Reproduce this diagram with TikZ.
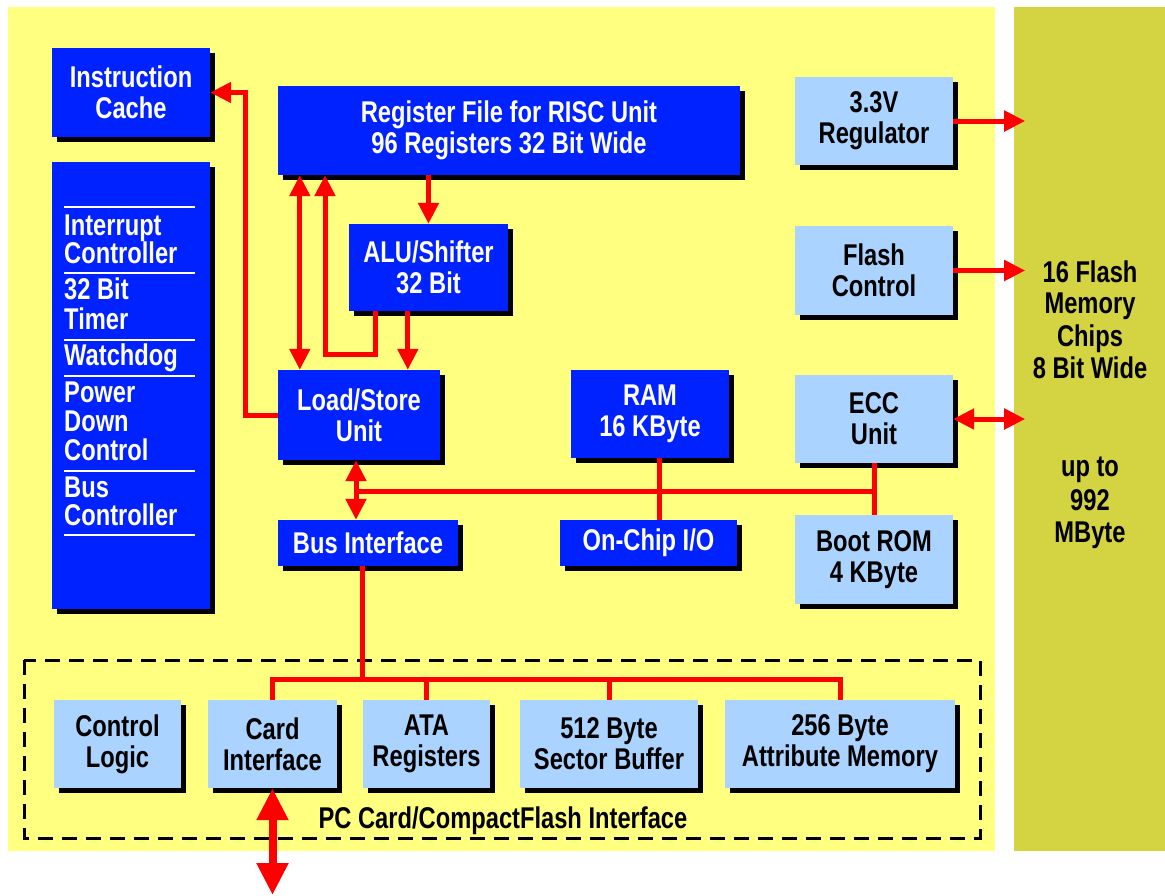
\documentclass[tikz,border=0pt]{standalone}
\usepackage{fontspec}
\newfontfamily\chipfont[FakeStretch=0.79]{Liberation Sans}
\usetikzlibrary{arrows.meta,shadows}
\definecolor{ChipBlue}{HTML}{0022FF}
\definecolor{ChipSky}{HTML}{AAD4FF}
\definecolor{ChipYellow}{HTML}{FFFF80}
\definecolor{ChipOlive}{HTML}{D4D442}
\definecolor{ChipRed}{HTML}{FF0000}

\begin{document}
\begin{tikzpicture}[x=1pt,y=-1pt,
  font=\chipfont\bfseries\fontsize{30}{31}\selectfont,
  >={Triangle[length=21pt,width=20pt]},
  box/.style={rectangle,inner sep=0pt,align=center,
    drop shadow={shadow xshift=5pt,shadow yshift=-5pt,fill=black,opacity=1}},
  cpu/.style={box,fill=ChipBlue,text=white},
  periph/.style={box,fill=ChipSky,text=black},
  wire/.style={ChipRed,line width=5pt},
  bigwire/.style={ChipRed,line width=8pt,<->,>={Triangle[length=32pt,width=30pt]}}]
  \useasboundingbox (0,0) rectangle (1165,895);
  \fill[ChipYellow] (8,7) rectangle (995,851);
  \fill[ChipOlive] (1014,7) rectangle (1165,851);

  % processor core
  \node[cpu,minimum width=158,minimum height=89] (icache) at (131,92.5) {Instruction\\Cache};
  \node[cpu,minimum width=158,minimum height=447] (sysblk) at (131,385.5) {};
  \node[cpu,minimum width=462,minimum height=89] (regfile) at (509,130.5)
    {Register File for RISC Unit\\96 Registers 32 Bit Wide};
  \node[cpu,minimum width=159,minimum height=87] (alu) at (428.5,267.5) {ALU/Shifter\\32 Bit};
  \node[cpu,minimum width=162,minimum height=90] (lsu) at (359,415) {Load/Store\\Unit};
  \node[cpu,minimum width=180,minimum height=46] (busif) at (368,543) {Bus Interface};
  \node[cpu,minimum width=158,minimum height=88] (ram) at (650,414) {RAM\\16 KByte};
  \node[cpu,minimum width=177,minimum height=46] (onchip) at (648.5,543) {On-Chip I/O};

  \foreach \y in {207,273,340,376,471,535}
    \draw[white,line width=1.5pt] (64,\y) -- (195,\y);
  \foreach \txt/\y [count=\i] in {Interrupt/235,Controller/263,32 Bit/299,Timer/329,
      Watchdog/365,Power/402,Down/431,Control/460,Bus/497,Controller/525}
    \node[anchor=base west,inner sep=0pt,text=white] (sysline\i) at (64,\y) {\txt};

  % flash side
  \node[periph,minimum width=158,minimum height=88] (reg33) at (874,121) {3.3V\\Regulator};
  \node[periph,minimum width=158,minimum height=89] (flashctl) at (874,270.5) {Flash\\Control};
  \node[periph,minimum width=158,minimum height=88] (ecc) at (874,419) {ECC\\Unit};
  \node[periph,minimum width=158,minimum height=89] (bootrom) at (874,559.5) {Boot ROM\\4 KByte};
  \foreach \txt/\y [count=\i] in {16 Flash/282,Memory/313,Chips/346,8 Bit Wide/378,
      up to/476,992/510,MByte/542}
    \node[anchor=base,inner sep=0pt] (flashline\i) at (1090,\y) {\txt};

  % card interface
  \draw[line width=3pt,dash pattern=on 15pt off 9pt] (24,660) rectangle (980,838);
  \node[periph,minimum width=127,minimum height=88] (ctrllogic) at (117.5,744) {Control\\Logic};
  \node[periph,minimum width=129,minimum height=88] (cardif) at (272.5,744) {Card\\Interface};
  \node[periph,minimum width=127,minimum height=88] (ata) at (426.5,744) {ATA\\Registers};
  \node[periph,minimum width=178,minimum height=88] (sector) at (609,744) {512 Byte\\Sector Buffer};
  \node[periph,minimum width=230,minimum height=88] (attrib) at (840,744) {256 Byte\\Attribute Memory};
  \node[anchor=base,inner sep=0pt] (pclabel) at (503,828) {PC Card/CompactFlash Interface};

  \coordinate (fb) at (325,354);
  \coordinate (ibus) at (0,491);
  \coordinate (pcbus) at (0,679);
  \coordinate (host) at (272.5,895);

  \draw[wire,->] (alu.north |- regfile.south) -- (alu.north);
  \draw[wire,<->] ([xshift=22pt]lsu.north west) -- ([xshift=22pt]lsu.north west |- regfile.south);
  \draw[wire,->] ([xshift=27pt]alu.south west) |- (fb) -- (fb |- regfile.south);
  \draw[wire,->] ([xshift=59pt]alu.south west) -- ([xshift=59pt]alu.south west |- lsu.north);
  \draw[wire,->] (lsu.west) -- ++(-32,0) |- (icache.east);
  \draw[wire,<->] ([xshift=-3pt]lsu.south) -- ([xshift=-3pt]lsu.south |- busif.north);
  \draw[wire] ([xshift=-3pt]lsu.south |- ibus) -- (ecc.south |- ibus);
  \draw[wire] ([xshift=9pt]ram.south) -- ([xshift=9pt]ram.south |- onchip.north);
  \draw[wire] (ecc.south) -- (bootrom.north);
  \draw[wire,->] (reg33.east) -- ++(72,0);
  \draw[wire,->] (flashctl.east) -- ++(72,0);
  \draw[wire,<->] (ecc.east) -- ++(72,0);
  \draw[wire] ([xshift=-6pt]busif.south) -- ([xshift=-6pt]busif.south |- pcbus);
  \draw[wire] (cardif.north) |- (attrib.north |- pcbus) -- (attrib.north);
  \draw[wire] (ata.north) -- (ata.north |- pcbus);
  \draw[wire] (sector.north) -- (sector.north |- pcbus);
  \draw[bigwire] (cardif.south) -- (host);
\end{tikzpicture}
\end{document}
